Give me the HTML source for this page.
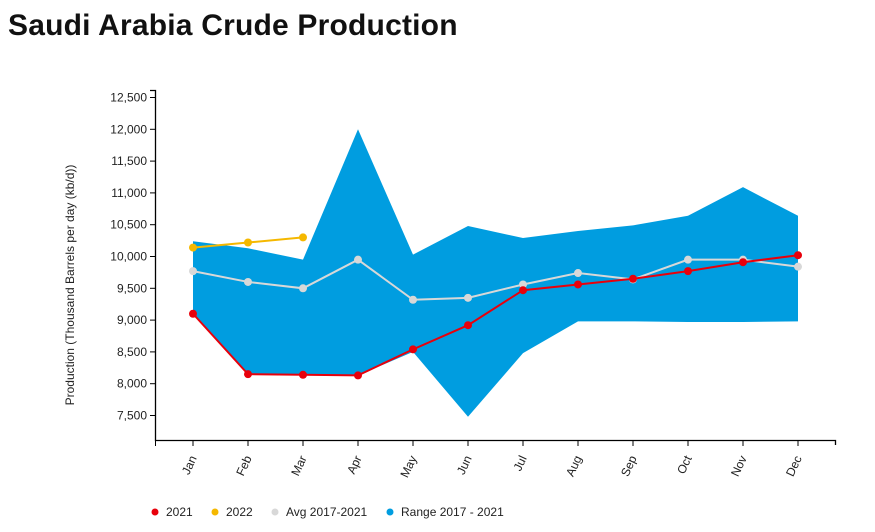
<!DOCTYPE html>
<html><head><meta charset="utf-8"><style>
body{margin:0;background:#fff;width:875px;height:532px;overflow:hidden;font-family:"Liberation Sans",Arial,sans-serif}
h1{position:absolute;left:8px;top:9px;margin:0;font-size:30px;font-weight:bold;letter-spacing:0.2px;color:#111}
</style></head><body>
<h1>Saudi Arabia Crude Production</h1>
<svg id="c" width="875" height="532" style="position:absolute;left:0;top:0"></svg>
<script>
const months=["Jan","Feb","Mar","Apr","May","Jun","Jul","Aug","Sep","Oct","Nov","Dec"];
const yTicks=[7500,8000,8500,9000,9500,10000,10500,11000,11500,12000,12500];
const rangeHigh=[10240,10130,9950,12000,10030,10480,10290,10400,10490,10640,11090,10640];
const rangeLow=[9100,8150,8150,8130,8500,7480,8480,8980,8980,8970,8970,8980];
const s2021=[9100,8150,8140,8130,8540,8920,9470,9560,9650,9770,9910,10020];
const s2022=[10140,10220,10300];
const avg=[9770,9600,9500,9950,9320,9350,9560,9740,9640,9950,9950,9840];
const svg=document.getElementById('c');const NS="http://www.w3.org/2000/svg";
const x=i=>193+i*55;const y=v=>256.5-(v-10000)*0.0636;
function mk(t,a,p){const e=document.createElementNS(NS,t);for(const k in a)e.setAttribute(k,a[k]);(p||svg).appendChild(e);return e;}
let pts=rangeHigh.map((v,i)=>x(i)+","+y(v)).concat(rangeLow.map((v,i)=>x(i)+","+y(v)).reverse());
const area=mk('polygon',{points:pts.join(' '),fill:'#009de0'});


mk('path',{d:'M150,90.5H155.5V440.5H835.5V445',stroke:'#000',fill:'none','stroke-width':1.3});
yTicks.forEach(v=>{mk('line',{x1:150,x2:155.5,y1:y(v),y2:y(v),stroke:'#000'});
const t=mk('text',{x:147,y:y(v)+4,'text-anchor':'end','font-size':12,fill:'#222'});t.textContent=v.toLocaleString('en-US');

});
mk('line',{x1:155.5,x2:155.5,y1:440,y2:446,stroke:'#000'});
months.forEach((m,i)=>{mk('line',{x1:x(i),x2:x(i),y1:440,y2:446,stroke:'#000'});
const t=mk('text',{x:x(i)+4,y:458,'text-anchor':'end','font-size':12,fill:'#222',transform:`rotate(-65 ${x(i)+4} 458)`});t.textContent=m;

});
const yl=mk('text',{x:0,y:0,'font-size':12,'text-anchor':'middle',fill:'#222',transform:'translate(74,285) rotate(-90)'});yl.textContent='Production (Thousand Barrels per day (kb/d))';


function series(d,c,name){const g=mk('g',{});


mk('polyline',{points:d.map((v,i)=>x(i)+","+y(v)).join(' '),fill:'none',stroke:c,'stroke-width':2},g);
d.forEach((v,i)=>mk('circle',{cx:x(i),cy:y(v),r:4,fill:c},g));}
series(avg,'#d8d8d8','series-avg');
series(s2021,'#e8000b','series-2021');
series(s2022,'#f5b800','series-2022');
[["2021","#e8000b",155],["2022","#f5b800",215],["Avg 2017-2021","#d8d8d8",275],["Range 2017 - 2021","#009de0",390]].forEach(([l,c,lx])=>{
const g=mk('g',{});


mk('circle',{cx:lx,cy:512,r:3.5,fill:c},g);
const t=mk('text',{x:lx+11,y:516,'font-size':12,fill:'#222'},g);t.textContent=l;});
</script>
</body></html>
